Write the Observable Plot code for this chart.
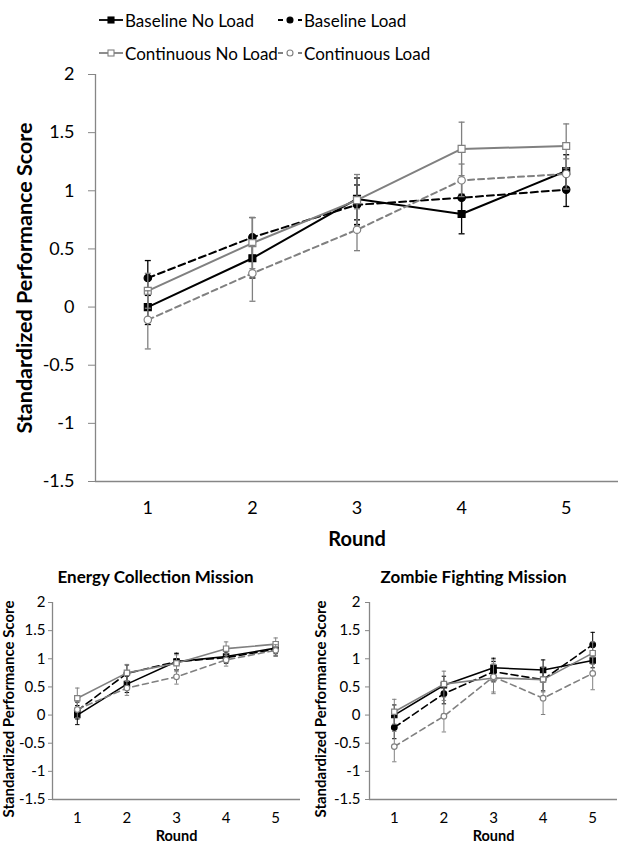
<!DOCTYPE html>
<html>
<head>
<meta charset="utf-8">
<script src="https://cdn.jsdelivr.net/npm/d3@7"></script>
<script src="https://cdn.jsdelivr.net/npm/@observablehq/plot@0.6"></script>
<style>
  html, body { margin: 0; padding: 0; background: #fff; }
  body { width: 620px; height: 845px; overflow: hidden; font-family: Lato, "Open Sans", sans-serif; }
  #legend { position: relative; width: 620px; height: 64px; }
  .item { position: absolute; display: flex; align-items: center; font-size: 17px; color: #000; white-space: nowrap; }
  .item svg { margin-right: 1px; }
  #main { width: 620px; height: 496px; }
  #row { display: flex; width: 620px; height: 285px; }
</style>
</head>
<body>
<div id="legend"></div>
<div id="main"></div>
<div id="row"><div id="energy"></div><div id="zombie"></div></div>
<script>
// ---------- data ----------
const rounds = [1, 2, 3, 4, 5];
const seriesNames = ["Baseline No Load", "Baseline Load", "Continuous No Load", "Continuous Load"];
const yTicks = [-1.5, -1, -0.5, 0, 0.5, 1, 1.5, 2];
const yTitle = "Standardized Performance Score";
const xTitle = "Round";

// Overall (top chart): means and error bars per series (order = seriesNames)
const overallBaselineNoLoad = [0.00, 0.42, 0.93, 0.80, 1.17];
const overallBaselineLoad = [0.25, 0.60, 0.88, 0.94, 1.01];
const overallContinuousNoLoad = [0.14, 0.55, 0.92, 1.36, 1.385];
const overallContinuousLoad = [-0.11, 0.29, 0.665, 1.09, 1.145];
const overallErrBaselineNoLoad = [0.15, 0.17, 0.18, 0.17, 0.14];
const overallErrBaselineLoad = [0.15, 0.17, 0.17, 0.15, 0.145];
const overallErrContinuousNoLoad = [0.15, 0.22, 0.22, 0.23, 0.19];
const overallErrContinuousLoad = [0.25, 0.24, 0.18, 0.14, 0.13];

// Energy Collection Mission
const energyTitle = "Energy Collection Mission";
const energyBaselineNoLoad = [0.00, 0.55, 0.95, 1.04, 1.19];
const energyBaselineLoad = [0.08, 0.74, 0.95, 1.02, 1.17];
const energyContinuousNoLoad = [0.30, 0.75, 0.92, 1.18, 1.26];
const energyContinuousLoad = [0.10, 0.48, 0.68, 0.98, 1.15];
const energyErrBaselineNoLoad = [0.17, 0.15, 0.14, 0.10, 0.10];
const energyErrBaselineLoad = [0.15, 0.15, 0.15, 0.10, 0.12];
const energyErrContinuousNoLoad = [0.18, 0.15, 0.15, 0.12, 0.11];
const energyErrContinuousLoad = [0.15, 0.13, 0.13, 0.11, 0.10];

// Zombie Fighting Mission
const zombieTitle = "Zombie Fighting Mission";
const zombieBaselineNoLoad = [0.00, 0.53, 0.84, 0.80, 0.97];
const zombieBaselineLoad = [-0.22, 0.38, 0.77, 0.63, 1.25];
const zombieContinuousNoLoad = [0.06, 0.55, 0.66, 0.63, 1.10];
const zombieContinuousLoad = [-0.56, -0.02, 0.68, 0.30, 0.74];
const zombieErrBaselineNoLoad = [0.18, 0.16, 0.17, 0.18, 0.13];
const zombieErrBaselineLoad = [0.20, 0.18, 0.18, 0.20, 0.22];
const zombieErrContinuousNoLoad = [0.22, 0.23, 0.25, 0.22, 0.20];
const zombieErrContinuousLoad = [0.27, 0.28, 0.30, 0.29, 0.29];

// ---------- styles ----------
const GRAY = "#808080";
const AXIS = "#868686";
const seriesStyle = [
  {color: "#000", dash: null, symbol: "square", fill: "#000"},
  {color: "#000", dash: "7,4", symbol: "circle", fill: "#000"},
  {color: GRAY, dash: null, symbol: "square", fill: "#fff"},
  {color: GRAY, dash: "6,4", symbol: "circle", fill: "#fff"}
];

function buildRows(meansList, errList) {
  return meansList.map((means, s) => rounds.map((r, i) => ({series: seriesNames[s], s, round: r, mean: means[i], se: errList[s][i]})));
}

const capSymbol = {
  draw(ctx, size) {
    const w = Math.sqrt(size / Math.PI);
    ctx.moveTo(-w, 0);
    ctx.lineTo(w, 0);
  }
};

function chart(o) {
  const rows = buildRows(o.means, o.errs);
  const marks = [
    Plot.ruleX([0.5], {stroke: AXIS, strokeWidth: 1.3}),
    Plot.ruleY([-1.5], {stroke: AXIS, strokeWidth: 1.3}),
    Plot.axisY({ticks: yTicks, tickSize: o.tickSize, tickPadding: o.yPad, tickFormat: d => String(d), stroke: AXIS, fill: "#000", fontSize: o.tickFont, label: null}),
    Plot.axisX({ticks: rounds, tickSize: 0, tickPadding: o.xPad, tickFormat: d => String(d), fill: "#000", fontSize: o.tickFont, label: null}),
    Plot.text([o.xTitle], {text: d => d, frameAnchor: "bottom", dy: o.xTitleDy, fontWeight: "bold", fontSize: o.titleFont, lineAnchor: "middle", textAnchor: "middle", fill: "#000"}),
    Plot.text([o.yTitle], {text: d => d, frameAnchor: "left", dx: o.yTitleDx, dy: o.yTitleDy || 0, rotate: -90, fontWeight: "bold", fontSize: o.yTitleFont, lineAnchor: "middle", textAnchor: "middle", fill: "#000"})
  ];
  if (o.title) {
    marks.push(Plot.text([o.title], {text: d => d, frameAnchor: "top", dx: o.titleDx, dy: o.titleDy, fontWeight: "bold", fontSize: o.headFont, lineAnchor: "middle", textAnchor: "middle", fill: "#000"}));
  }
  rows.forEach((data, s) => {
    const st = seriesStyle[s];
    marks.push(
      Plot.line(data, {x: "round", y: "mean", stroke: st.color, strokeWidth: o.lineWidth, strokeDasharray: st.dash}),
      Plot.ruleX(data, {x: "round", y1: d => d.mean - d.se, y2: d => d.mean + d.se, stroke: st.color, strokeWidth: o.errWidth}),
      Plot.dot(data, {x: "round", y: d => d.mean - d.se, symbol: capSymbol, r: o.capR, stroke: st.color, fill: "none", strokeWidth: o.errWidth}),
      Plot.dot(data, {x: "round", y: d => d.mean + d.se, symbol: capSymbol, r: o.capR, stroke: st.color, fill: "none", strokeWidth: o.errWidth}),
      Plot.dot(data, {x: "round", y: "mean", symbol: st.symbol, r: st.symbol === "square" ? o.sqR : o.ciR, fill: st.fill, stroke: st.color, strokeWidth: 1.2})
    );
  });
  return Plot.plot({
    width: o.width, height: o.height,
    marginTop: o.mt, marginRight: o.mr, marginBottom: o.mb, marginLeft: o.ml,
    style: {fontFamily: "Lato, 'Open Sans', sans-serif", background: "#fff", color: "#000", overflow: "visible"},
    x: {domain: [0.5, 5.5], axis: null},
    y: {domain: [-1.5, 2], axis: null},
    marks
  });
}

document.getElementById("main").append(chart({
  means: [overallBaselineNoLoad, overallBaselineLoad, overallContinuousNoLoad, overallContinuousLoad],
  errs: [overallErrBaselineNoLoad, overallErrBaselineLoad, overallErrContinuousNoLoad, overallErrContinuousLoad],
  width: 620, height: 496, mt: 10, mr: 2, mb: 79, ml: 95,
  tickSize: 7, yPad: 14, xPad: 20, tickFont: 18,
  xTitle, yTitle, xTitleDy: 58, yTitleDx: -70, titleFont: 20, yTitleFont: 21.5,
  lineWidth: 2, errWidth: 1.3, capR: 3, sqR: 3.9, ciR: 3.7
}));

document.getElementById("energy").append(chart({
  means: [energyBaselineNoLoad, energyBaselineLoad, energyContinuousNoLoad, energyContinuousLoad],
  errs: [energyErrBaselineNoLoad, energyErrBaselineLoad, energyErrContinuousNoLoad, energyErrContinuousLoad],
  width: 310, height: 285, mt: 42, mr: 10, mb: 46, ml: 52,
  tickSize: 4, yPad: 3, xPad: 13, tickFont: 15,
  xTitle, yTitle, xTitleDy: 37, yTitleDx: -43, yTitleDy: 8, titleFont: 14.5, yTitleFont: 15,
  title: energyTitle, titleDx: -21, titleDy: -25, headFont: 17,
  lineWidth: 1.6, errWidth: 1, capR: 2.2, sqR: 3, ciR: 2.8
}));

document.getElementById("zombie").append(chart({
  means: [zombieBaselineNoLoad, zombieBaselineLoad, zombieContinuousNoLoad, zombieContinuousLoad],
  errs: [zombieErrBaselineNoLoad, zombieErrBaselineLoad, zombieErrContinuousNoLoad, zombieErrContinuousLoad],
  width: 310, height: 285, mt: 42, mr: 3, mb: 46, ml: 59,
  tickSize: 4, yPad: 5, xPad: 13, tickFont: 15,
  xTitle, yTitle, xTitleDy: 37, yTitleDx: -48, yTitleDy: 8, titleFont: 14.5, yTitleFont: 15,
  title: zombieTitle, titleDx: -20, titleDy: -25, headFont: 17,
  lineWidth: 1.6, errWidth: 1, capR: 2.2, sqR: 3, ciR: 2.8
}));

// ---------- legend ----------
const legendPos = [[98, 20], [277, 20], [98, 53], [277, 53]];
const legend = d3.select("#legend");
seriesNames.forEach((name, s) => {
  const st = seriesStyle[s];
  const item = legend.append("div").attr("class", "item")
    .style("left", legendPos[s][0] + "px").style("top", (legendPos[s][1] - 11) + "px").style("height", "22px");
  const svg = item.append("svg").attr("width", 26).attr("height", 22);
  svg.append("line").attr("x1", 1).attr("x2", 25).attr("y1", 11).attr("y2", 11)
    .attr("stroke", st.color).attr("stroke-width", 1.8).attr("stroke-dasharray", st.dash ? "5,5" : null);
  if (st.symbol === "square") {
    svg.append("rect").attr("x", 10).attr("y", 8).attr("width", 6).attr("height", 6)
      .attr("fill", st.fill).attr("stroke", st.color).attr("stroke-width", 1.1);
  } else {
    svg.append("circle").attr("cx", 13).attr("cy", 11).attr("r", 3)
      .attr("fill", st.fill).attr("stroke", st.color).attr("stroke-width", 1.1);
  }
  item.append("span").text(name);
});
</script>
</body>
</html>
